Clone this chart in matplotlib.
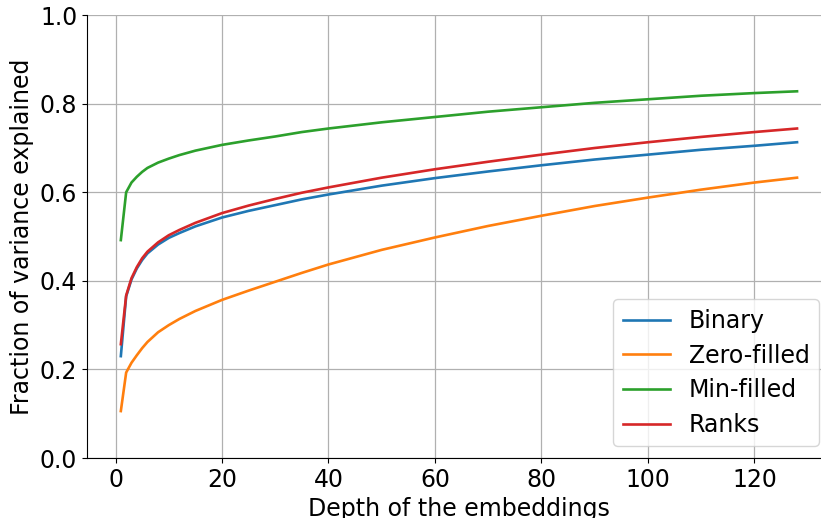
import numpy as np
import matplotlib
matplotlib.use("Agg")
import matplotlib.pyplot as plt

depth = [1, 2, 3, 4, 5, 6, 8, 10, 12, 15, 20, 25, 30, 35, 40, 50, 60, 70, 80, 90, 100, 110, 120, 128]

binary = [0.230, 0.365, 0.403, 0.428, 0.447, 0.462, 0.482, 0.497, 0.508, 0.523, 0.543, 0.558,
          0.571, 0.584, 0.595, 0.615, 0.632, 0.647, 0.661, 0.674, 0.685, 0.696, 0.705, 0.713]
zero_filled = [0.106, 0.193, 0.215, 0.232, 0.248, 0.262, 0.284, 0.300, 0.314, 0.332, 0.357, 0.378,
               0.398, 0.418, 0.437, 0.470, 0.498, 0.524, 0.547, 0.569, 0.588, 0.606, 0.622, 0.633]
min_filled = [0.492, 0.600, 0.622, 0.635, 0.646, 0.655, 0.667, 0.676, 0.684, 0.694, 0.707, 0.717,
              0.726, 0.736, 0.744, 0.758, 0.770, 0.782, 0.792, 0.802, 0.810, 0.818, 0.824, 0.828]
ranks = [0.257, 0.367, 0.406, 0.431, 0.451, 0.466, 0.487, 0.503, 0.515, 0.531, 0.553, 0.570,
         0.585, 0.599, 0.611, 0.633, 0.652, 0.669, 0.685, 0.700, 0.713, 0.725, 0.736, 0.744]

series = [("Binary", binary), ("Zero-filled", zero_filled),
          ("Min-filled", min_filled), ("Ranks", ranks)]

fs = 17
fig = plt.figure(figsize=(8.21, 5.18), dpi=100)
ax = fig.add_axes([0.106, 0.1158, 0.906, 0.855])

for nome, vals in series:
    ax.plot(depth, vals, label=nome, linewidth=1.9)

ax.set_xlim(-5.35, 134.35)
ax.set_ylim(0, 1)
ax.set_xticks(np.arange(0, 121, 20))
ax.grid(True, color="#b0b0b0", linewidth=0.9)
ax.spines["top"].set_visible(False)
ax.spines["right"].set_visible(False)
ax.tick_params(labelsize=fs)
ax.set_xlabel("Depth of the embeddings", fontsize=fs)
ax.set_ylabel("Fraction of variance explained", fontsize=fs)
ax.legend(loc="lower right", fontsize=fs, labelspacing=0.45)

fig.savefig("out.png", dpi=100)
